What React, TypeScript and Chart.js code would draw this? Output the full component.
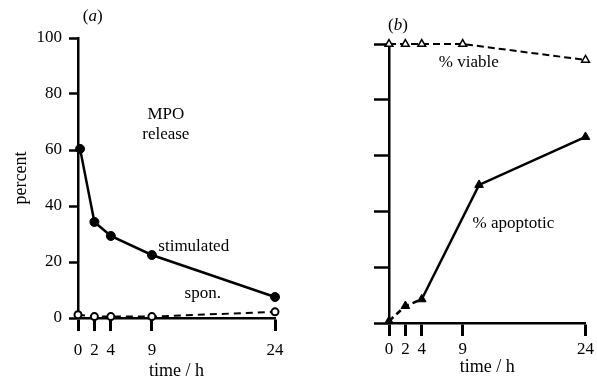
import React, { useEffect, useRef } from 'react';
import { Chart, registerables } from 'chart.js';

Chart.register(...registerables);

// ---- data ----
const xTickValues = [0, 2, 4, 9, 24];

// panel (a): MPO release, percent
const stimTimes = [0.25, 2, 4, 9, 24];
const stimValues = [60.4, 34.3, 29.3, 22.5, 7.5];
const sponTimes = [0, 2, 4, 9, 24];
const sponValues = [1.2, 0.5, 0.5, 0.5, 2.2];

// panel (b): viability / apoptosis, percent
const viableTimes = [0, 2, 4, 9, 24];
const viableValues = [100, 100, 100, 100, 94.3];
const apopTimes = [0, 2, 4, 11, 24];
const apopValues = [0.7, 6.1, 8.5, 49.5, 66.7];

// text notes anchored in data coordinates
const notesA = [
  { text: 'a', t: 1.8, v: 107.5, panel: true },
  { text: 'MPO', t: 10.7, v: 72.5 },
  { text: 'release', t: 10.7, v: 65.4 },
  { text: 'stimulated', t: 14.1, v: 25.7 },
  { text: 'spon.', t: 15.2, v: 8.9 },
];
const notesB = [
  { text: 'b', t: 1.1, v: 106.6, panel: true },
  { text: '% viable', t: 9.75, v: 93.5 },
  { text: '% apoptotic', t: 15.2, v: 35.8 },
];

const FONT = '"Liberation Serif", "Times New Roman", serif';
const W = 597;
const H = 383;

function pts(xs: number[], ys: number[]) {
  return xs.map((x, i) => ({ x, y: ys[i] }));
}

function makeNotesPlugin(notes: { text: string; t: number; v: number; panel?: boolean }[]) {
  return {
    id: 'notes',
    afterDatasetsDraw(chart: any) {
      const { ctx } = chart;
      const xs = chart.scales.x;
      const ys = chart.scales.y;
      ctx.save();
      ctx.fillStyle = '#000';
      ctx.textBaseline = 'middle';
      for (const n of notes) {
        const px = xs.getPixelForValue(n.t);
        const py = ys.getPixelForValue(n.v);
        if (n.panel) {
          // "(" upright, letter italic, ")" upright
          const up = `17px ${FONT}`;
          const it = `italic 17px ${FONT}`;
          ctx.font = up;
          const wp = ctx.measureText('(').width;
          const wq = ctx.measureText(')').width;
          ctx.font = it;
          const wl = ctx.measureText(n.text).width;
          const total = wp + wl + wq;
          let x = px - total / 2;
          ctx.textAlign = 'left';
          ctx.font = up;
          ctx.fillText('(', x, py);
          x += wp;
          ctx.font = it;
          ctx.fillText(n.text, x, py);
          x += wl;
          ctx.font = up;
          ctx.fillText(')', x, py);
        } else {
          ctx.textAlign = 'center';
          ctx.font = `17px ${FONT}`;
          ctx.fillText(n.text, px, py);
        }
      }
      ctx.restore();
    },
  };
}

interface PanelSpec {
  datasets: any[];
  notes: any[];
  leftWidth: number;
  bottomHeight: number;
  padTop: number;
  padRight: number;
  yLabels: boolean;
  yTickLen: number;
  yTitle: string | null;
  xLabelPad: number;
  xTitlePadBottom: number;
}

function makeConfig(p: PanelSpec): any {
  return {
    type: 'line',
    data: { datasets: p.datasets },
    plugins: [makeNotesPlugin(p.notes)],
    options: {
      responsive: false,
      animation: false,
      events: [],
      layout: { padding: { top: p.padTop, right: p.padRight, left: 0, bottom: 0 } },
      plugins: { legend: { display: false }, tooltip: { enabled: false } },
      scales: {
        x: {
          type: 'linear',
          min: 0,
          max: 24,
          afterBuildTicks: (s: any) => {
            s.ticks = xTickValues.map((v) => ({ value: v }));
          },
          afterFit: (s: any) => {
            s.height = p.bottomHeight;
          },
          grid: {
            drawOnChartArea: false,
            drawTicks: true,
            tickLength: 13,
            tickWidth: 3,
            tickColor: '#000',
          },
          border: { display: true, color: '#000', width: 2.5 },
          ticks: {
            color: '#000',
            font: { family: FONT, size: 17 },
            padding: p.xLabelPad,
            maxRotation: 0,
            autoSkip: false,
          },
          title: {
            display: true,
            text: 'time / h',
            color: '#000',
            font: { family: FONT, size: 18 },
            padding: { top: 0, bottom: p.xTitlePadBottom },
          },
        },
        y: {
          type: 'linear',
          min: 0,
          max: 100,
          afterFit: (s: any) => {
            s.width = p.leftWidth;
          },
          grid: {
            drawOnChartArea: false,
            drawTicks: true,
            tickLength: p.yTickLen,
            tickWidth: 2.5,
            tickColor: '#000',
          },
          border: { display: true, color: '#000', width: 2.5 },
          ticks: {
            display: p.yLabels,
            stepSize: 20,
            color: '#000',
            font: { family: FONT, size: 17 },
            padding: 7,
          },
          title: {
            display: !!p.yTitle,
            text: p.yTitle || '',
            color: '#000',
            font: { family: FONT, size: 18 },
            padding: { top: 10, bottom: 0 },
          },
        },
      },
    },
  };
}

const panelA: PanelSpec = {
  datasets: [
    {
      label: 'stimulated',
      data: pts(stimTimes, stimValues),
      borderColor: '#000',
      borderWidth: 2.5,
      pointStyle: 'circle',
      pointRadius: 4.5,
      pointBackgroundColor: '#000',
      pointBorderColor: '#000',
      pointBorderWidth: 1,
      tension: 0,
      clip: false,
    },
    {
      label: 'spon.',
      data: pts(sponTimes, sponValues),
      borderColor: '#000',
      borderWidth: 2,
      borderDash: [7, 5],
      pointStyle: 'circle',
      pointRadius: 3.5,
      pointBackgroundColor: '#fff',
      pointBorderColor: '#000',
      pointBorderWidth: 2,
      tension: 0,
      clip: false,
    },
  ],
  notes: notesA,
  leftWidth: 78,
  bottomHeight: H - 318,
  padTop: 38,
  padRight: 300 - 275,
  yLabels: true,
  yTickLen: 9,
  yTitle: 'percent',
  xLabelPad: 9,
  xTitlePadBottom: 1,
};

const panelB: PanelSpec = {
  datasets: [
    {
      label: '% viable',
      data: pts(viableTimes, viableValues),
      borderColor: '#000',
      borderWidth: 2,
      borderDash: [7, 4],
      pointStyle: 'triangle',
      pointRadius: 4.5,
      pointBackgroundColor: '#fff',
      pointBorderColor: '#000',
      pointBorderWidth: 1.5,
      tension: 0,
      clip: false,
    },
    {
      label: '% apoptotic',
      data: pts(apopTimes, apopValues),
      borderColor: '#000',
      borderWidth: 2.5,
      pointStyle: 'triangle',
      pointRadius: 5,
      pointBackgroundColor: '#000',
      pointBorderColor: '#000',
      pointBorderWidth: 1,
      tension: 0,
      clip: false,
      segment: {
        borderDash: (ctx: any) => (ctx.p0DataIndex < 2 ? [6, 4] : undefined),
      },
    },
  ],
  notes: notesB,
  leftWidth: 389 - 300,
  bottomHeight: H - 323,
  padTop: 44,
  padRight: W - 586,
  yLabels: false,
  yTickLen: 15,
  yTitle: null,
  xLabelPad: 3,
  xTitlePadBottom: 5,
};

export default function App() {
  const refA = useRef<HTMLCanvasElement>(null);
  const refB = useRef<HTMLCanvasElement>(null);

  useEffect(() => {
    const a = new Chart(refA.current as HTMLCanvasElement, makeConfig(panelA));
    const b = new Chart(refB.current as HTMLCanvasElement, makeConfig(panelB));
    return () => {
      a.destroy();
      b.destroy();
    };
  }, []);

  return (
    <div
      style={{
        position: 'absolute',
        left: 0,
        top: 0,
        width: W,
        height: H,
        background: '#fff',
        overflow: 'hidden',
      }}
    >
      <canvas
        ref={refA}
        width={300}
        height={H}
        style={{ position: 'absolute', left: 0, top: 0, width: 300, height: H }}
      />
      <canvas
        ref={refB}
        width={W - 300}
        height={H}
        style={{ position: 'absolute', left: 300, top: 0, width: W - 300, height: H }}
      />
    </div>
  );
}
